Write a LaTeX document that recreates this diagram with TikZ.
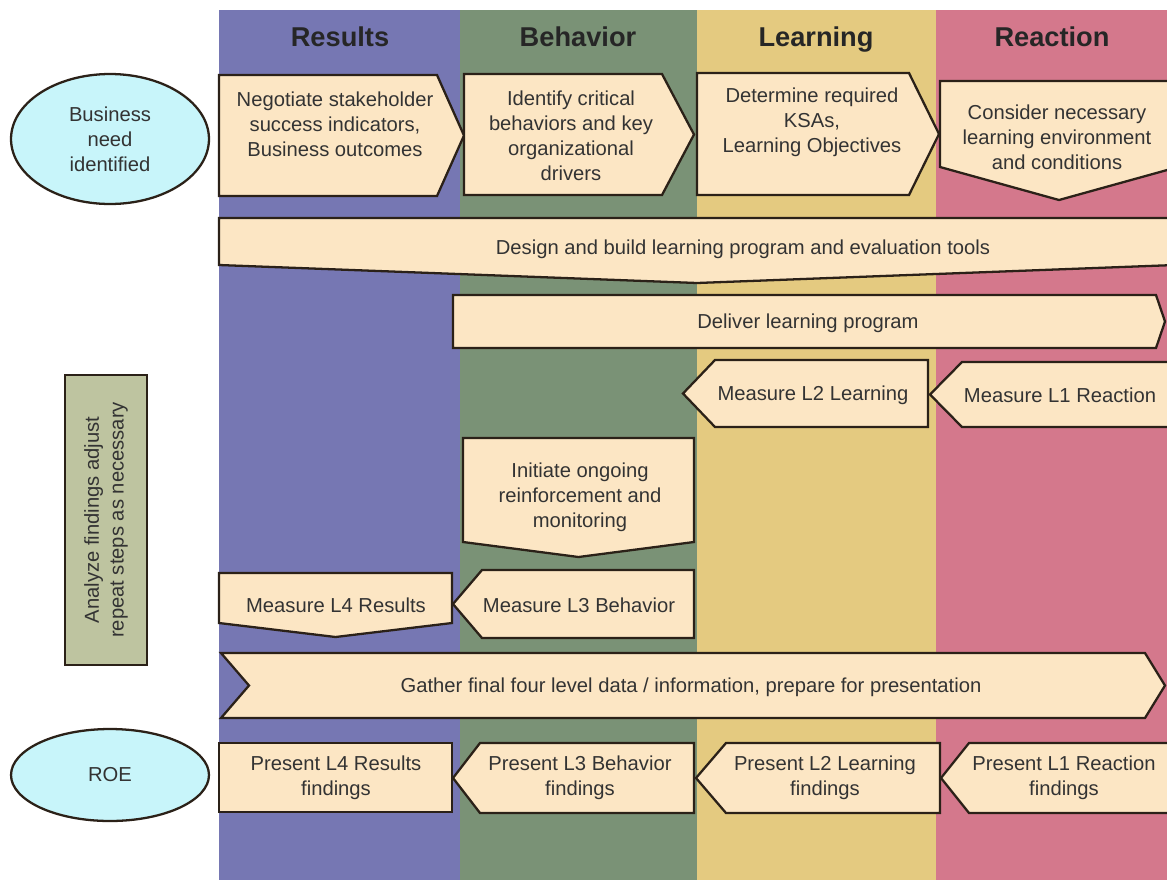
\documentclass[tikz,border=0pt]{standalone}
\usepackage{fontspec}
\setmainfont{Liberation Sans}
\usetikzlibrary{shapes.geometric}
\definecolor{results}{HTML}{7677B3}
\definecolor{behavior}{HTML}{7A9276}
\definecolor{learning}{HTML}{E4CA80}
\definecolor{reaction}{HTML}{D4788C}
\definecolor{peach}{HTML}{FCE6C4}
\definecolor{sky}{HTML}{C8F5FA}
\definecolor{sage}{HTML}{BEC4A0}
\definecolor{ink}{HTML}{2B2118}
\tikzset{
  task/.style={draw=ink, fill=peach, line width=1.3pt, line join=miter},
  txt/.style={align=center, inner sep=0pt, text=black!80,
    font=\fontsize{11.5}{14.2}\selectfont},
  head/.style={inner sep=0pt, anchor=base, text=black!85,
    font=\fontsize{15.5}{18}\selectfont\bfseries},
  oval/.style={ellipse, draw=ink, fill=sky, line width=1.3pt, txt},
}

\begin{document}
\begin{tikzpicture}[x=0.02cm, y=-0.02cm]
  \useasboundingbox (0,0) rectangle (1167,880);
  % lanes and their titles
  \foreach \c/\l/\r in {results/219/460, behavior/460/697, learning/697/936, reaction/936/1167}
    \fill[\c] (\l,10) rectangle (\r,880);
  \foreach \t/\x in {Results/340, Behavior/578, Learning/816, Reaction/1052}
    \node[head] (h\t) at (\x,46) {\t};

  % planning
  \node[oval, minimum width=3.96cm, minimum height=2.6cm] (need) at (110,139) {Business\\need\\identified};
  \draw[task] (219,75) -- (437,75) -- (464,135.5) -- (437,196) -- (219,196) -- cycle;
  \draw[task] (464,74) -- (662,74) -- (694,134.5) -- (662,195) -- (464,195) -- cycle;
  \draw[task] (697,73) -- (909,73) -- (939,134) -- (909,195) -- (697,195) -- cycle;
  \draw[task] (940,81) -- (1178,81) -- (1178,167) -- (1059,200) -- (940,167) -- cycle;
  \node[txt] (negotiate) at (335,124) {Negotiate stakeholder\\success indicators,\\Business outcomes};
  \node[txt] (identify) at (571,136) {Identify critical\\behaviors and key\\organizational\\drivers};
  \node[txt] (determine) at (812,122) {Determine required\\KSAs,\\Learning Objectives};
  \node[txt] (consider) at (1057,137) {Consider necessary\\learning environment\\and conditions};

  % design and delivery
  \draw[task] (219,218) -- (1175,218) -- (1175,265) -- (697,283) -- (219,265) -- cycle;
  \node[txt] (design) at (743,249) {Design and build learning program and evaluation tools};
  \draw[task] (453,295) -- (1156,295) -- (1165,321.5) -- (1156,348) -- (453,348) -- cycle;
  \node[txt] (deliver) at (808,323) {Deliver learning program};

  % measuring
  \draw[task] (683,393.5) -- (715,360) -- (928,360) -- (928,427) -- (715,427) -- cycle;
  \draw[task] (930,394.5) -- (962,362) -- (1175,362) -- (1175,427) -- (962,427) -- cycle;
  \node[txt] (mlii) at (813,395) {Measure L2 Learning};
  \node[txt] (mli) at (1060,395) {Measure L1 Reaction};
  \draw[task] (463,438) -- (694,438) -- (694,542) -- (578.5,557) -- (463,542) -- cycle;
  \node[txt] (initiate) at (580,497) {Initiate ongoing\\reinforcement and\\monitoring};
  \draw[task] (219,573) -- (452,573) -- (452,623) -- (335.5,637) -- (219,623) -- cycle;
  \draw[task] (453,604) -- (482,570) -- (694,570) -- (694,638) -- (482,638) -- cycle;
  \node[txt] (mliv) at (336,605) {Measure L4 Results};
  \node[txt] (mliii) at (579,605) {Measure L3 Behavior};

  \draw[task, fill=sage] (65,375) rectangle (147,665);
  \node[txt, rotate=90] (analyze) at (106,520) {Analyze findings  adjust\\repeat steps as necessary};

  % reporting
  \draw[task] (221,653) -- (1145,653) -- (1165,685.5) -- (1145,718) -- (221,718) -- (249,685.5) -- cycle;
  \node[txt] (gather) at (691,687) {Gather final four level data / information, prepare for presentation};
  \draw[task] (219,743) rectangle (452,812);
  \draw[task] (453,778) -- (480,743) -- (694,743) -- (694,813) -- (480,813) -- cycle;
  \draw[task] (696,778) -- (726,743) -- (940,743) -- (940,813) -- (726,813) -- cycle;
  \draw[task] (941,778) -- (969,743) -- (1175,743) -- (1175,813) -- (969,813) -- cycle;
  \node[txt] (pliv) at (336,778) {Present L4 Results\\findings};
  \node[txt] (pliii) at (580,778) {Present L3 Behavior\\findings};
  \node[txt] (plii) at (825,778) {Present L2 Learning\\findings};
  \node[txt] (pli) at (1064,778) {Present L1 Reaction\\findings};
  \node[oval, minimum width=3.96cm, minimum height=1.84cm] (roe) at (110,775) {ROE};
\end{tikzpicture}
\end{document}
